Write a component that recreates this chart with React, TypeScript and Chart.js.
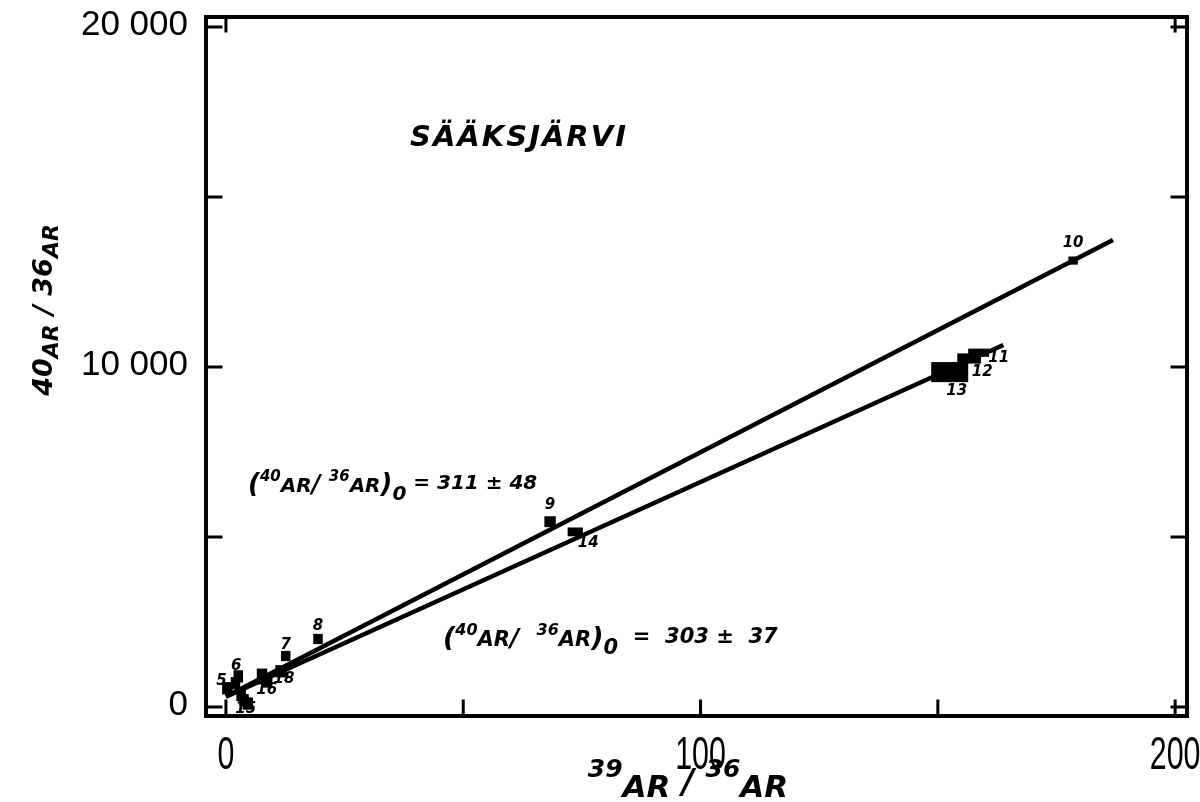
import React, { useEffect, useRef } from "react";
import { Chart, registerables } from "chart.js";

Chart.register(...registerables);

// Heating steps: 39Ar/36Ar vs 40Ar/36Ar with their error boxes
const stepLabels = ["5", "4", "6", "3", "2", "15", "17", "16", "18", "7", "8", "9", "14", "13", "12", "11", "10"];
const stepX = [0.3, 2.0, 2.6, 3.2, 3.8, 4.6, 7.6, 8.6, 11.6, 12.6, 19.4, 68.3, 73.6, 152.5, 156.6, 158.6, 178.5];
const stepY = [550, 700, 900, 350, 200, 100, 950, 750, 1050, 1500, 2000, 5450, 5150, 9850, 10250, 10420, 13130];
const errX = [1.1, 1.0, 1.0, 1.0, 1.0, 1.1, 1.1, 1.2, 1.2, 1.0, 1.0, 1.2, 1.6, 3.9, 2.5, 2.2, 1.0];
const errY = [180, 180, 180, 180, 180, 180, 180, 180, 180, 150, 150, 160, 130, 295, 150, 120, 120];

// Isochron fits: intercepts (40Ar/36Ar)0 and end points of the drawn lines
const isoUpperX = [0, 186.9];
const isoUpperY = [311, 13735];
const isoLowerX = [0, 163.8];
const isoLowerY = [303, 10647];

// Axis ranges and ticks
const xRange = [-4.2, 202.5];
const yRange = [-265, 20294];
const xTickValues = [0, 50, 100, 150, 200];
const xTickLabels = ["0", "", "100", "", "200"];
const yTickValues = [0, 5000, 10000, 15000, 20000];
const yTickLabels = ["0", "", "10 000", "", "20 000"];

const labelOffsets: Record<string, [number, number]> = {
  "10": [0, -17],
  "9": [0, -17],
  "14": [13, 11],
  "13": [7, 19],
  "12": [13, 14],
  "11": [20, 5],
  "8": [0, -13],
  "7": [0, -11],
  "5": [-6, -7],
  "6": [-2, -10],
  "16": [0, 9],
  "15": [-2, 6],
  "18": [3, 8],
};

const HAND = "DejaVu Sans";

type Seg = [string, number, number];

function drawRich(ctx: CanvasRenderingContext2D, x: number, y: number, segs: Seg[], align: "left" | "center") {
  let total = 0;
  const widths: number[] = [];
  for (const [t, size] of segs) {
    ctx.font = `italic bold ${size}px "${HAND}"`;
    const w = ctx.measureText(t).width;
    widths.push(w);
    total += w;
  }
  let cx = align === "center" ? x - total / 2 : x;
  ctx.textAlign = "left";
  ctx.textBaseline = "alphabetic";
  segs.forEach(([t, size, dy], i) => {
    ctx.font = `italic bold ${size}px "${HAND}"`;
    ctx.fillText(t, cx, y + dy);
    cx += widths[i];
  });
}

const decorPlugin = {
  id: "decor",
  afterDatasetsDraw(chart: any) {
    const { ctx, scales } = chart;
    const xs = scales.x;
    const ys = scales.y;
    ctx.save();
    ctx.fillStyle = "#000";
    // error boxes
    for (let i = 0; i < stepX.length; i++) {
      const x1 = xs.getPixelForValue(stepX[i] - errX[i]);
      const x2 = xs.getPixelForValue(stepX[i] + errX[i]);
      const y1 = ys.getPixelForValue(stepY[i] + errY[i]);
      const y2 = ys.getPixelForValue(stepY[i] - errY[i]);
      ctx.fillRect(x1, y1, x2 - x1, y2 - y1);
    }
    // step numbers
    ctx.font = `italic bold 15px "${HAND}"`;
    ctx.textAlign = "center";
    ctx.textBaseline = "middle";
    stepLabels.forEach((lab, i) => {
      const off = labelOffsets[lab];
      if (!off) return;
      const px = xs.getPixelForValue(stepX[i]) + off[0];
      const py = ys.getPixelForValue(stepY[i]) + off[1];
      ctx.fillText(lab, px, py);
    });
    ctx.restore();
  },
  afterDraw(chart: any) {
    const { ctx, chartArea, scales } = chart;
    const xs = scales.x;
    const ys = scales.y;
    const { left, right, top, bottom } = chartArea;
    ctx.save();
    ctx.strokeStyle = "#000";
    ctx.fillStyle = "#000";
    ctx.lineCap = "square";

    // frame
    ctx.lineWidth = 4;
    ctx.strokeRect(left, top, right - left, bottom - top);

    // inward ticks
    ctx.lineWidth = 3;
    ctx.beginPath();
    yTickValues.forEach((v) => {
      const py = ys.getPixelForValue(v);
      ctx.moveTo(left, py);
      ctx.lineTo(left + 15, py);
      ctx.moveTo(right, py);
      ctx.lineTo(right - 15, py);
    });
    xTickValues.forEach((v) => {
      const px = xs.getPixelForValue(v);
      ctx.moveTo(px, bottom);
      ctx.lineTo(px, bottom - 15);
    });
    [xTickValues[0], xTickValues[xTickValues.length - 1]].forEach((v) => {
      const px = xs.getPixelForValue(v);
      ctx.moveTo(px, top);
      ctx.lineTo(px, top + 14);
    });
    ctx.stroke();

    // y tick labels
    ctx.font = `35px "Liberation Sans"`;
    ctx.textAlign = "right";
    ctx.textBaseline = "middle";
    yTickValues.forEach((v, i) => {
      if (!yTickLabels[i]) return;
      ctx.fillText(yTickLabels[i], 188, ys.getPixelForValue(v) - 2);
    });

    // x tick labels (condensed)
    ctx.textAlign = "center";
    ctx.textBaseline = "top";
    xTickValues.forEach((v, i) => {
      if (!xTickLabels[i]) return;
      const px = xs.getPixelForValue(v);
      ctx.save();
      ctx.translate(px, 733);
      ctx.scale(0.66, 1);
      ctx.font = `46px "Liberation Sans"`;
      ctx.fillText(xTickLabels[i], 0, 0);
      ctx.restore();
    });

    // axis titles
    drawRich(ctx, 688, 797, [["39", 25, -20], ["AR", 31, 0], [" / ", 33, -4], ["36", 25, -20], ["AR", 31, 0]], "center");
    ctx.save();
    ctx.translate(52, 310);
    ctx.rotate(-Math.PI / 2);
    drawRich(ctx, 0, 0, [["40", 27, 0], ["AR", 22, 6], [" / ", 27, 0], ["36", 27, 0], ["AR", 22, 6]], "center");
    ctx.restore();

    // title
    ctx.save();
    ctx.font = `italic bold 29px "${HAND}"`;
    (ctx as any).letterSpacing = "2px";
    ctx.textAlign = "left";
    ctx.textBaseline = "alphabetic";
    ctx.fillText("SÄÄKSJÄRVI", 410, 146);
    ctx.restore();

    // intercept annotations
    drawRich(ctx, 248, 492, [["(", 26, 0], ["40", 15, -11], ["AR", 20, 0], ["/ ", 24, 0], ["36", 15, -11], ["AR", 20, 0], [")", 26, 0], ["0", 20, 8], [" = 311 ± 48", 20, -3]], "left");
    drawRich(ctx, 443, 646, [["(", 27, 0], ["40", 16, -11], ["AR", 21, 0], ["/  ", 25, 0], ["36", 16, -11], ["AR", 21, 0], [")", 27, 0], ["0", 21, 8], ["  =  303 ±  37", 21, -3]], "left");

    ctx.restore();
  },
};

export default function App() {
  const ref = useRef<HTMLCanvasElement | null>(null);

  useEffect(() => {
    document.body.style.margin = "0";
    const canvas = ref.current;
    if (!canvas) return;
    const chart = new Chart(canvas, {
      type: "scatter",
      data: {
        datasets: [
          {
            data: isoUpperX.map((x, i) => ({ x, y: isoUpperY[i] })),
            showLine: true,
            borderColor: "#000",
            borderWidth: 4.5,
            pointRadius: 0,
          },
          {
            data: isoLowerX.map((x, i) => ({ x, y: isoLowerY[i] })),
            showLine: true,
            borderColor: "#000",
            borderWidth: 4.5,
            pointRadius: 0,
          },
          {
            data: stepX.map((x, i) => ({ x, y: stepY[i] })),
            pointStyle: "rect",
            pointRadius: 4,
            backgroundColor: "#000",
            borderColor: "#000",
            borderWidth: 0,
          },
        ],
      },
      options: {
        responsive: false,
        animation: false,
        layout: { padding: { left: 206, right: 13, top: 17, bottom: 86 } },
        plugins: { legend: { display: false }, tooltip: { enabled: false } },
        scales: {
          x: { type: "linear", min: xRange[0], max: xRange[1], display: false },
          y: { type: "linear", min: yRange[0], max: yRange[1], display: false },
        },
      },
      plugins: [decorPlugin],
    });
    return () => chart.destroy();
  }, []);

  return (
    <div style={{ width: 1200, height: 802, background: "#fff" }}>
      <canvas ref={ref} width={1200} height={802} />
    </div>
  );
}
